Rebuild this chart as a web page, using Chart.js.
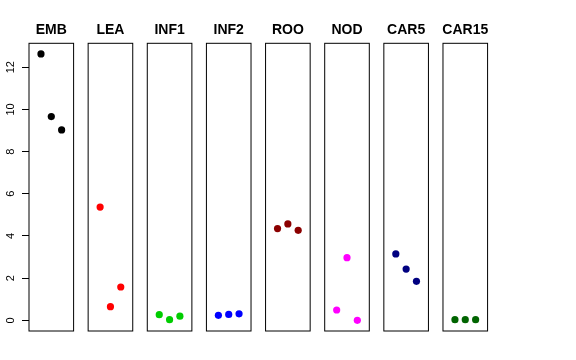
<!DOCTYPE html>
<html>
<head>
<meta charset="utf-8">
<script src="https://cdn.jsdelivr.net/npm/chart.js@4.4.0/dist/chart.umd.min.js"></script>
<style>
  html, body { margin: 0; padding: 0; background: #fff; }
  #wrap { position: relative; width: 576px; height: 360px; }
  #wrap canvas { position: absolute; left: 0; top: 0; }
</style>
</head>
<body>
<div id="wrap"></div>
<script>
// data
const tissues = ['EMB', 'LEA', 'INF1', 'INF2', 'ROO', 'NOD', 'CAR5', 'CAR15'];
const replicates = [1, 2, 3];
const embValues = [12.63, 9.66, 9.03];
const leaValues = [5.37, 0.65, 1.58];
const inf1Values = [0.27, 0.03, 0.20];
const inf2Values = [0.24, 0.28, 0.31];
const rooValues = [4.35, 4.57, 4.27];
const nodValues = [0.49, 2.97, 0.0];
const car5Values = [3.15, 2.43, 1.85];
const car15Values = [0.03, 0.03, 0.03];
const yTicks = [0, 2, 4, 6, 8, 10, 12];

const allValues = [embValues, leaValues, inf1Values, inf2Values, rooValues, nodValues, car5Values, car15Values];
const colors = ['#000000', '#FF0000', '#00CD00', '#0000FF', '#8B0000', '#FF00FF', '#000080', '#006400'];

// R-style 4% axis extension
const flat = allValues.flat();
const yMinData = Math.min(...flat), yMaxData = Math.max(...flat);
const yExt = (yMaxData - yMinData) * 0.04;
const xMin = 0 - 4 * 0.04, xMax = 4 + 4 * 0.04;

const W = 576, H = 360;
const panelLeft0 = 29, panelStep = 59.14, panelWidth = 44.6;
const panelTop = 43.3, panelBottom = 331;
const fontFamily = '"Liberation Sans", Helvetica, Arial, sans-serif';

const panelFrame = {
    id: 'panelFrame',
    afterDraw(chart, args, opts) {
        const { ctx, chartArea: a } = chart;
        ctx.save();
        ctx.strokeStyle = '#000';
        ctx.lineWidth = 1;
        ctx.strokeRect(a.left, a.top, a.right - a.left, a.bottom - a.top);
        ctx.fillStyle = '#000';
        ctx.font = 'bold 14px ' + fontFamily;
        ctx.textAlign = 'center';
        ctx.textBaseline = 'alphabetic';
        ctx.fillText(opts.text, (a.left + a.right) / 2, 33.5);
        ctx.restore();
    }
};

const wrap = document.getElementById('wrap');

tissues.forEach((name, i) => {
    const canvas = document.createElement('canvas');
    canvas.width = W;
    canvas.height = H;
    canvas.style.width = W + 'px';
    canvas.style.height = H + 'px';
    wrap.appendChild(canvas);

    const left = panelLeft0 + i * panelStep;
    const first = i === 0;

    new Chart(canvas, {
        type: 'scatter',
        data: {
            datasets: [{
                data: replicates.map((x, j) => ({ x: x, y: allValues[i][j] })),
                backgroundColor: colors[i],
                borderWidth: 0,
                pointRadius: 3.6
            }]
        },
        options: {
            responsive: false,
            animation: false,
            events: [],
            layout: {
                padding: {
                    // every chart reserves panelLeft0 for the (possibly hidden) y axis
                    left: left - panelLeft0,
                    right: W - left - panelWidth,
                    top: panelTop,
                    bottom: H - panelBottom
                }
            },
            scales: {
                x: {
                    type: 'linear',
                    display: false,
                    min: xMin,
                    max: xMax
                },
                y: {
                    type: 'linear',
                    display: first,
                    min: yMinData - yExt,
                    max: yMaxData + yExt,
                    afterBuildTicks: (scale) => {
                        scale.ticks = yTicks.map(v => ({ value: v }));
                    },
                    afterFit: (scale) => {
                        scale.width = panelLeft0;
                    },
                    border: { display: false },
                    grid: {
                        drawOnChartArea: false,
                        tickLength: 7,
                        color: '#000',
                        tickColor: '#000'
                    },
                    ticks: {
                        minRotation: 90,
                        maxRotation: 90,
                        crossAlign: 'center',
                        padding: 4.5,
                        color: '#000',
                        font: { family: fontFamily, size: 11 }
                    }
                }
            },
            plugins: {
                legend: { display: false },
                tooltip: { enabled: false },
                panelFrame: { text: name }
            }
        },
        plugins: [panelFrame]
    });
});
</script>
</body>
</html>
